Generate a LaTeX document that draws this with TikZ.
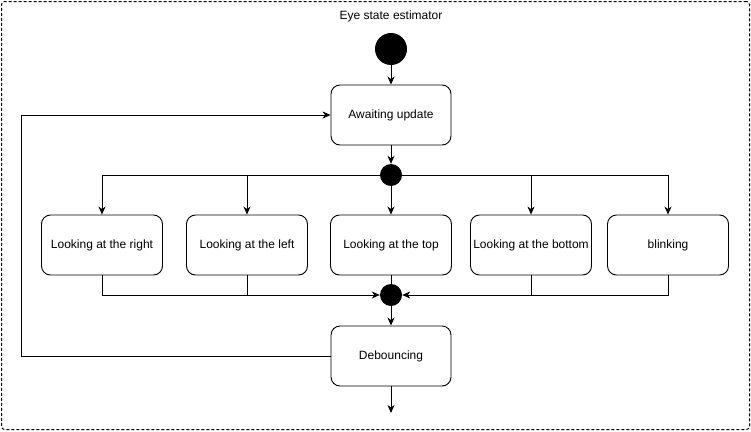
\documentclass[tikz,border=0pt]{standalone}
\usepackage{fontspec}
\setmainfont{Liberation Sans}
\usetikzlibrary{arrows.meta}

\begin{document}
\begin{tikzpicture}[x=1pt, y=-1pt,
    every node/.style={font=\fontsize{12}{14}\selectfont},
    state/.style={draw, rounded corners=9pt, line width=0.9pt,
      minimum width=121pt, minimum height=60pt, inner sep=0pt},
    dot/.style={circle, fill=black, inner sep=0pt, minimum size=#1},
    frame/.style={draw, line width=1pt, dash pattern=on 3pt off 2pt, rounded corners=3pt,
      minimum width=748pt, minimum height=428pt},
    arr/.style={-{Stealth[length=8pt,width=7pt,inset=2.5pt]}, line width=0.9pt},
    wire/.style={line width=0.9pt}]
  \useasboundingbox (0,0) rectangle (751,431);
  \node[frame] (frame) at (375.5,215.5) {};
  \node (title) at (391,16) {Eye state estimator};

  \node[dot=32pt] (start) at (391,49) {};
  \node[state, minimum width=120pt] (await) at (391,115) {Awaiting update};
  \node[dot=22pt] (fork) at (391,175) {};

  \node[state] (right) at (102,245) {Looking at the right};
  \node[state] (left) at (247,245) {Looking at the left};
  \node[state] (top) at (391,245) {Looking at the top};
  \node[state] (bottom) at (531,245) {Looking at the bottom};
  \node[state] (blink) at (668,245) {blinking};

  \node[dot=22pt] (join) at (391,295) {};
  \node[state, minimum width=120pt] (deb) at (391,356) {Debouncing};
  \coordinate (out) at (391,413);
  \coordinate (loop) at (21,356);

  \begin{scope}[arr]
    \draw (start) -- (await);
    \draw (await) -- (fork);
    \draw (fork) -| (right.north);
    \draw (fork) -| (left.north);
    \draw (fork) -- (top);
    \draw (fork) -| (bottom.north);
    \draw (fork) -| (blink.north);
    \draw (right.south) |- (join);
    \draw (blink.south) |- (join);
    \draw (join) -- (deb);
    \draw (deb) -- (out);
    \draw (deb.west) -- (loop) |- (await.west);
  \end{scope}
  \begin{scope}[wire]
    \draw (left.south) -- (left.south |- join);
    \draw (top) -- (join);
    \draw (bottom.south) -- (bottom.south |- join);
  \end{scope}
\end{tikzpicture}
\end{document}
